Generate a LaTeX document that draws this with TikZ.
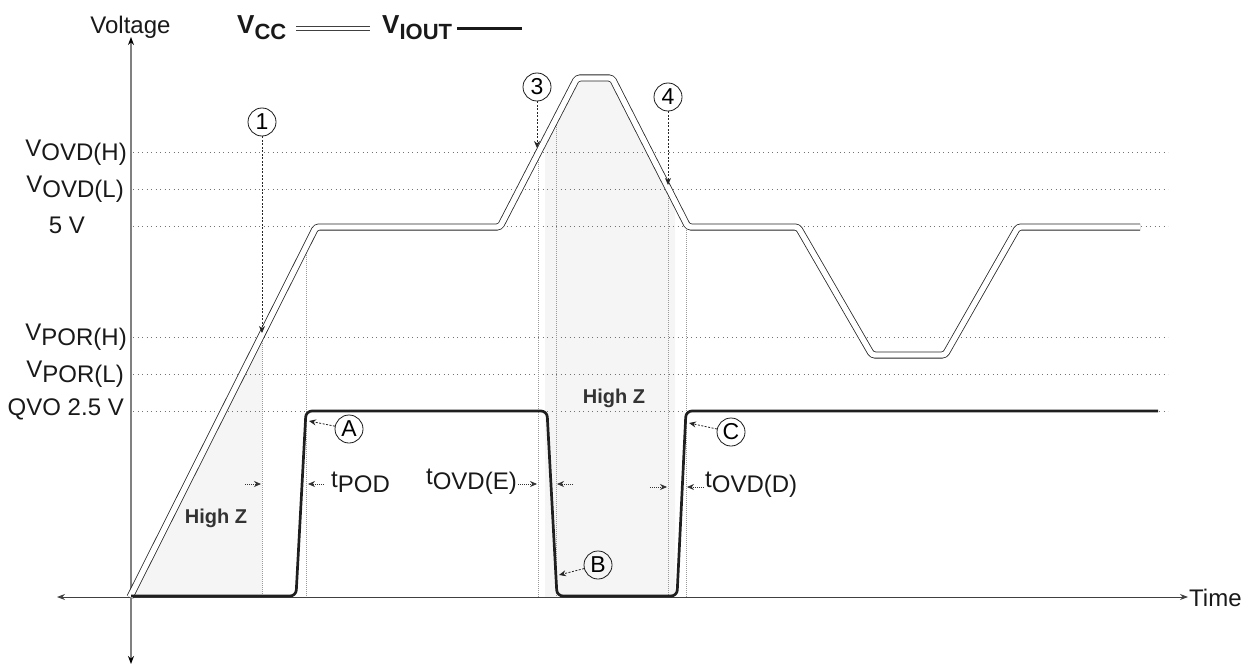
\documentclass[tikz,border=0pt]{standalone}
\usepackage{fontspec}
\setmainfont{Liberation Sans}
\usetikzlibrary{arrows.meta}
\newcommand{\lvsub}[2]{#1\raisebox{-4.5pt}{#2}}
\begin{document}
\begin{tikzpicture}[x=1pt,y=-1pt,
  >={Stealth[length=8pt,width=6pt]},
  lbl/.style={font=\fontsize{24}{28}\selectfont, inner sep=0pt, text=black!90},
  level/.style={draw=black!55, line width=0.8pt, dash pattern=on 0.9pt off 3.6pt},
  marker/.style={draw=black!40, line width=0.6pt, dash pattern=on 1pt off 1pt},
  hzfill/.style={fill=black!4},
  vcc/.style={draw=black!85, line width=0.8pt, double=white, double distance=5.4pt, rounded corners=3pt},
  vout/.style={draw=black!88, line width=2.7pt, rounded corners=6pt},
  ptr/.style={draw=black!85, line width=0.8pt, dash pattern=on 2pt off 1.5pt, -{Stealth[length=7pt,width=6pt]}},
  tarrow/.style={draw=black!80, line width=0.8pt, dash pattern=on 1pt off 1pt, -{Stealth[length=7pt,width=6pt]}},
  circ/.style={circle, draw=black!90, line width=0.8pt, minimum size=28pt, inner sep=0pt, font=\fontsize{23}{26}\selectfont},
  hz/.style={font=\fontsize{20}{24}\selectfont\bfseries, text=black!80, inner sep=0pt}
]
\useasboundingbox (0,0) rectangle (1247,666);

% shaded high-Z regions
\begin{scope}
\clip (131,0) rectangle (262,597);
\fill[hzfill] (130,597) -- (316,227) -- (316,597) -- cycle;
\end{scope}
\begin{scope}
\clip (545,0) rectangle (675,597);
\fill[hzfill] (500,227) -- (577,78) -- (612,78) -- (688,227) -- (688,597) -- (500,597) -- cycle;
\end{scope}

% level lines
\foreach \y in {152.7,189.3,226.7,337.3,374,411}
  \draw[level] (133,\y) -- (1168,\y);

% level labels
\node[lbl, anchor=east] (Lovdh) at (127,152.7) {\lvsub{V}{OVD(H)}};
\node[lbl, anchor=east] (Lovdl) at (124,189.3) {\lvsub{V}{OVD(L)}};
\node[lbl] (L5) at (67,225) {5 V};
\node[lbl, anchor=east] (Lporh) at (127,337.3) {\lvsub{V}{POR(H)}};
\node[lbl, anchor=east] (Lporl) at (124,374) {\lvsub{V}{POR(L)}};
\node[lbl, anchor=east] (Lqvo) at (124,409) {QVO 2.5 V};

% axes
\coordinate (ytop) at (131,37);
\coordinate (ybot) at (131,664);
\coordinate (xleft) at (57,597);
\coordinate (xright) at (1188,597);
\draw[draw=black!50, line width=2pt, {Stealth[length=8pt,width=6pt,black]}-{Stealth[length=8pt,width=6pt,black]}] (ybot) -- (ytop);
\draw[draw=black!75, line width=0.9pt, <->] (xleft) -- (xright);
\node[lbl, anchor=base] (ylab) at (130.5,34) {Voltage};
\node[lbl, anchor=west] (xlab) at (1189,598) {Time};

% vertical timing markers
\draw[marker] (262,337) -- (262,597);
\draw[marker] (306.7,253) -- (306.7,597);
\draw[marker] (538,150) -- (538,597);
\draw[marker] (556,125) -- (556,597);
\draw[marker] (668,188) -- (668,597);
\draw[marker] (686,230) -- (686,597);

% VCC
\draw[vcc] (130,597) -- (316,227) -- (500,227) -- (577,78) -- (612,78) -- (688,227) -- (798,227) -- (872,355) -- (945,355) -- (1018,227) -- (1140,227);
% VIOUT
\draw[vout] (131,596) -- (296,596) -- (306,411) -- (547,411) -- (557,596) -- (677,596) -- (686,411) -- (1158,411);

% High Z labels
\node[hz] (hz1) at (216,518) {High Z};
\node[hz] (hz2) at (614,398) {High Z};

% circled markers
\node[circ] (c1) at (262,122) {1};
\node[circ] (c3) at (537,87) {3};
\node[circ] (c4) at (668,97) {4};
\node[circ] (cA) at (349,429) {A};
\node[circ] (cB) at (598,565) {B};
\node[circ] (cC) at (731,432) {C};
\coordinate (p1) at (262,333);
\coordinate (p3) at (537,148);
\coordinate (p4) at (668,185);
\coordinate (pA) at (309,421);
\coordinate (pB) at (559,575);
\coordinate (pC) at (689,423);
\draw[ptr] (c1) -- (p1);
\draw[ptr] (c3) -- (p3);
\draw[ptr] (c4) -- (p4);
\draw[ptr] (cA) -- (pA);
\draw[ptr] (cB) -- (pB);
\draw[ptr] (cC) -- (pC);

% timing labels and arrows
\node[lbl, anchor=west] (tpod) at (331,482) {t\raisebox{-5pt}{POD}};
\node[lbl, anchor=east] (tovde) at (517,482) {t\raisebox{-5pt}{OVD(E)}};
\node[lbl, anchor=west] (tovdd) at (705,485) {t\raisebox{-5pt}{OVD(D)}};
\coordinate (a1s) at (245,484); \coordinate (a1e) at (261,484);
\coordinate (a2s) at (324,484); \coordinate (a2e) at (308,484);
\coordinate (a3s) at (518,484); \coordinate (a3e) at (537,484);
\coordinate (a4s) at (573,484); \coordinate (a4e) at (557,484);
\coordinate (a5s) at (650,487); \coordinate (a5e) at (667,487);
\coordinate (a6s) at (704,487); \coordinate (a6e) at (687,487);
\draw[tarrow] (a1s) -- (a1e);
\draw[tarrow] (a2s) -- (a2e);
\draw[tarrow] (a3s) -- (a3e);
\draw[tarrow] (a4s) -- (a4e);
\draw[tarrow] (a5s) -- (a5e);
\draw[tarrow] (a6s) -- (a6e);

% legend
\node[anchor=base west, inner sep=0pt, text=black!90] (legvcc) at (237,34) {\bfseries\fontsize{26}{28}\selectfont V\raisebox{-6pt}{\fontsize{22}{26}\selectfont CC}};
\node[anchor=base west, inner sep=0pt, text=black!90] (legvout) at (382,34) {\bfseries\fontsize{26}{28}\selectfont V\raisebox{-6pt}{\fontsize{22}{26}\selectfont IOUT}};
\coordinate (lg1s) at (296,28.6); \coordinate (lg1e) at (370,28.6);
\coordinate (lg2s) at (457,28.6); \coordinate (lg2e) at (522,28.6);
\draw[draw=black!75, line width=0.6pt, double=white, double distance=3pt] (lg1s) -- (lg1e);
\draw[draw=black!90, line width=2.8pt] (lg2s) -- (lg2e);
\end{tikzpicture}
\end{document}
